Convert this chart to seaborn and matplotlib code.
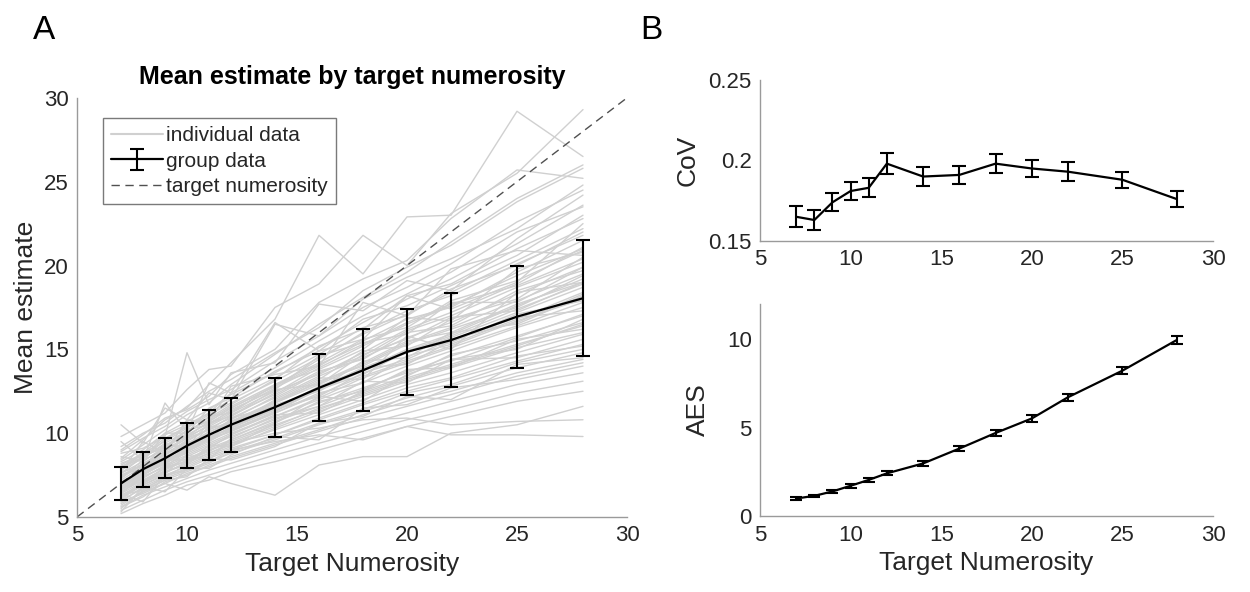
import numpy as np
import pandas as pd
import matplotlib
matplotlib.use("Agg")
import matplotlib.pyplot as plt
import seaborn as sns
from matplotlib.lines import Line2D

# ---------------- data ----------------
targets = [7, 8, 9, 10, 11, 12, 14, 16, 18, 20, 22, 25, 28]

group_mean = [7.0, 7.85, 8.5, 9.25, 9.9, 10.5, 11.55, 12.7, 13.75, 14.85, 15.55, 16.95, 18.05]
group_sd = [1.0, 1.05, 1.2, 1.35, 1.5, 1.6, 1.75, 2.0, 2.45, 2.55, 2.8, 3.05, 3.45]

cov_mean = [0.165, 0.163, 0.174, 0.181, 0.183, 0.198, 0.190, 0.191, 0.198, 0.195, 0.193, 0.188, 0.176]
cov_err = [0.0065, 0.006, 0.0055, 0.0055, 0.0058, 0.0065, 0.006, 0.0055, 0.006, 0.0055, 0.006, 0.005, 0.005]

aes_mean = [1.0, 1.15, 1.4, 1.72, 2.05, 2.42, 2.98, 3.82, 4.7, 5.52, 6.72, 8.22, 9.95]
aes_err = [0.06, 0.07, 0.08, 0.1, 0.1, 0.11, 0.12, 0.14, 0.16, 0.18, 0.2, 0.2, 0.25]

target_line = [5, 30]

individual = [
    [8.5, 9.6, 10.8, 11.5, 12.9, 14.2, 16.8, 21.8, 19.5, 22.9, 23.0, 29.2, 26.5],
    [9.8, 10.5, 11.2, 12.6, 13.8, 14.0, 17.5, 18.9, 21.8, 20.0, 23.1, 25.5, 29.3],
    [9.0, 9.9, 10.9, 11.4, 12.2, 13.5, 15.0, 17.8, 19.2, 20.3, 22.8, 25.7, 25.2],
    [8.4, 9.3, 10.2, 11.1, 11.8, 12.9, 14.7, 16.5, 18.1, 19.6, 21.4, 24.0, 26.0],
    [10.5, 9.4, 11.5, 10.8, 12.4, 12.0, 16.5, 15.8, 18.0, 19.3, 20.4, 22.2, 24.8],
    [7.9, 8.8, 9.9, 10.5, 11.2, 12.4, 13.9, 15.5, 17.0, 18.3, 19.6, 22.0, 23.5],
    [8.0, 8.5, 9.6, 10.4, 10.9, 11.7, 13.2, 15.2, 16.2, 18.2, 18.9, 21.0, 22.8],
    [7.6, 8.6, 9.3, 9.8, 10.7, 11.5, 12.8, 14.4, 16.0, 17.3, 18.2, 20.1, 21.8],
    [7.3, 8.2, 8.9, 9.7, 10.2, 11.0, 12.4, 13.9, 15.2, 16.5, 17.6, 19.4, 21.0],
    [7.5, 7.9, 8.7, 9.4, 10.0, 10.8, 12.2, 13.6, 14.6, 16.1, 17.0, 18.7, 20.2],
    [7.1, 7.8, 8.6, 9.2, 9.9, 10.6, 11.8, 12.9, 14.1, 15.4, 16.3, 17.9, 19.5],
    [6.9, 7.7, 8.4, 9.0, 9.7, 10.3, 11.5, 12.6, 13.7, 14.8, 15.7, 17.2, 18.7],
    [7.0, 7.5, 8.2, 8.9, 9.6, 10.1, 11.2, 12.3, 13.4, 14.3, 15.2, 16.7, 18.0],
    [6.8, 7.6, 8.3, 8.8, 9.4, 10.0, 11.0, 12.0, 13.0, 14.0, 14.9, 16.3, 17.5],
    [6.6, 7.4, 8.0, 8.6, 9.2, 9.8, 10.8, 11.8, 12.7, 13.6, 14.6, 15.8, 17.0],
    [6.5, 7.2, 7.9, 8.5, 9.0, 9.5, 10.5, 11.4, 12.4, 13.3, 14.1, 15.3, 16.4],
    [6.3, 7.0, 7.7, 8.2, 8.8, 9.3, 10.2, 11.1, 12.0, 12.9, 13.6, 14.8, 15.9],
    [6.2, 6.9, 7.5, 8.0, 8.6, 9.1, 9.9, 10.8, 11.7, 12.5, 13.2, 14.3, 15.3],
    [6.0, 6.7, 7.3, 7.8, 8.3, 8.8, 9.6, 10.5, 11.3, 12.1, 12.8, 13.9, 14.8],
    [5.8, 6.5, 7.0, 7.6, 8.0, 8.5, 9.3, 10.1, 10.9, 11.6, 12.3, 13.4, 14.2],
    [5.6, 6.3, 6.8, 7.3, 7.8, 8.2, 9.0, 9.8, 10.5, 11.2, 11.9, 12.9, 13.6],
    [5.4, 6.0, 6.6, 7.1, 7.5, 7.9, 8.7, 9.4, 10.1, 10.8, 11.4, 12.4, 13.1],
    [5.2, 5.8, 6.3, 6.9, 7.2, 7.7, 8.3, 9.0, 9.7, 10.4, 11.0, 11.9, 12.5],
    [5.9, 6.4, 7.0, 6.6, 7.4, 7.0, 6.3, 8.1, 8.6, 8.6, 10.0, 10.5, 11.6],
    [6.4, 5.9, 7.5, 7.8, 8.3, 9.0, 9.5, 9.9, 9.6, 10.4, 9.9, 9.9, 9.8],
    [7.2, 7.0, 8.0, 8.3, 9.0, 9.4, 10.0, 10.3, 10.8, 10.9, 10.5, 10.7, 10.8],
    [9.5, 8.4, 11.8, 10.1, 13.0, 12.4, 16.6, 14.9, 15.6, 18.2, 17.4, 19.0, 22.5],
    [8.8, 9.1, 9.8, 14.8, 11.7, 13.6, 14.2, 17.7, 17.3, 19.1, 18.5, 21.6, 24.2],
    [7.7, 9.5, 8.8, 10.8, 10.6, 12.8, 13.5, 14.0, 17.8, 17.0, 19.8, 20.9, 20.6],
    [6.7, 7.3, 9.4, 9.0, 10.4, 10.4, 12.0, 13.3, 13.2, 15.8, 15.0, 18.4, 19.0],
    [6.1, 7.1, 7.6, 8.7, 8.4, 9.7, 10.9, 11.6, 13.1, 13.0, 14.4, 15.0, 16.8],
    [5.5, 6.6, 7.2, 7.4, 8.5, 8.4, 9.2, 10.6, 11.0, 12.2, 12.0, 14.1, 14.5],
    [7.4, 8.1, 8.5, 9.5, 9.5, 10.9, 11.6, 12.6, 14.3, 14.5, 16.0, 16.5, 18.2],
    [8.2, 8.7, 9.1, 10.0, 11.0, 11.2, 12.9, 13.8, 15.0, 16.9, 16.7, 19.8, 20.8],
    [6.9, 7.8, 8.1, 9.3, 9.8, 10.2, 11.3, 12.7, 13.9, 14.1, 15.5, 16.9, 17.3],
    [6.4, 7.5, 8.4, 8.4, 9.1, 9.9, 11.1, 11.2, 12.5, 13.8, 13.9, 15.6, 16.2],
    [5.3, 6.8, 6.5, 7.9, 7.9, 8.7, 9.8, 9.6, 11.5, 11.7, 12.7, 13.2, 14.0],
    [7.8, 8.9, 9.0, 10.2, 10.5, 11.4, 12.6, 14.6, 15.4, 15.9, 17.8, 17.8, 19.9],
    [8.6, 8.3, 10.0, 10.0, 11.5, 12.1, 13.7, 14.9, 16.8, 17.6, 18.8, 20.6, 23.0],
    [6.0, 7.2, 7.7, 8.1, 9.3, 9.2, 10.6, 12.2, 11.9, 13.5, 14.4, 14.5, 15.6],
    [7.2, 8.0, 8.8, 9.5, 10.3, 10.9, 12.1, 13.4, 14.5, 15.7, 16.6, 18.3, 19.9],
    [6.8, 7.5, 8.3, 9.1, 9.6, 10.4, 11.4, 12.8, 13.8, 15.0, 15.9, 17.6, 19.2],
    [7.6, 8.3, 9.2, 9.9, 10.6, 11.3, 12.7, 14.0, 15.5, 16.8, 17.5, 19.6, 21.5],
    [6.5, 7.3, 8.1, 8.7, 9.3, 9.9, 11.0, 12.1, 13.3, 14.2, 15.1, 16.4, 17.8],
    [7.0, 7.9, 8.5, 9.3, 10.1, 10.6, 11.9, 13.0, 14.2, 15.5, 16.0, 17.7, 19.0],
    [6.2, 7.0, 7.8, 8.4, 8.9, 9.6, 10.7, 11.6, 12.6, 13.7, 14.3, 15.7, 17.1],
    [8.1, 8.8, 9.5, 10.3, 11.1, 11.8, 13.1, 14.5, 15.9, 17.1, 18.4, 20.3, 22.2],
    [7.4, 8.2, 8.7, 9.6, 10.2, 10.7, 11.9, 13.2, 14.9, 15.2, 16.8, 18.0, 20.5],
    [6.6, 7.4, 8.0, 8.9, 9.5, 10.2, 11.2, 12.4, 13.0, 14.6, 15.3, 16.8, 18.4],
    [7.1, 7.7, 8.6, 9.1, 9.9, 10.5, 11.7, 12.5, 13.9, 14.9, 15.8, 17.4, 18.9],
    [5.9, 6.8, 7.4, 8.1, 8.7, 9.2, 10.3, 11.3, 12.2, 13.1, 13.9, 15.1, 16.0],
    [7.8, 8.5, 9.4, 10.1, 10.8, 11.6, 12.9, 14.2, 15.6, 16.3, 17.9, 19.1, 20.9],
    [8.3, 9.0, 10.0, 10.7, 11.4, 12.3, 13.6, 15.1, 16.6, 18.0, 19.2, 21.3, 23.6],
    [6.4, 7.1, 7.9, 8.3, 9.1, 9.6, 10.6, 11.9, 12.5, 13.4, 14.7, 15.5, 16.6],
    [7.3, 8.4, 9.0, 9.8, 10.4, 11.1, 12.3, 13.7, 14.4, 16.0, 16.4, 18.5, 19.7],
    [6.9, 7.6, 8.2, 9.0, 9.8, 10.3, 11.4, 12.2, 13.6, 14.4, 15.6, 16.6, 18.3],
    [8.9, 9.7, 10.4, 11.3, 12.0, 12.6, 14.3, 15.8, 17.5, 18.7, 20.1, 22.6, 24.5],
    [5.7, 6.5, 7.2, 7.7, 8.2, 8.9, 9.7, 10.6, 11.4, 12.4, 12.9, 14.2, 15.0],
    [7.5, 8.1, 8.9, 9.7, 10.5, 11.2, 12.5, 13.5, 14.8, 16.2, 17.2, 18.9, 21.1],
    [6.7, 7.5, 8.4, 8.9, 9.7, 10.1, 11.3, 12.6, 13.5, 14.9, 15.4, 17.1, 17.9],
    [7.9, 8.6, 9.2, 10.2, 10.7, 11.5, 12.8, 14.1, 15.3, 16.6, 17.7, 18.8, 20.4],
    [9.2, 10.0, 10.6, 11.6, 12.5, 13.2, 14.8, 16.3, 18.5, 19.9, 21.2, 23.8, 25.8],
    [6.1, 6.9, 7.6, 8.3, 8.8, 9.4, 10.4, 11.5, 12.3, 13.2, 14.0, 15.2, 16.5],
    [7.0, 7.8, 8.5, 9.4, 9.9, 10.7, 11.8, 13.1, 14.0, 15.3, 16.2, 17.5, 19.4],
    [8.0, 8.7, 9.7, 10.4, 11.2, 12.0, 13.3, 14.7, 16.3, 17.0, 18.6, 20.0, 22.0],
    [6.3, 6.6, 7.4, 7.9, 8.5, 9.0, 9.9, 10.9, 11.8, 12.7, 13.3, 14.6, 15.2],
    [5.6, 6.2, 7.1, 7.5, 8.1, 8.6, 9.4, 10.2, 11.1, 11.9, 12.5, 13.6, 14.4],
    [7.7, 8.0, 9.3, 9.2, 10.6, 11.0, 12.6, 12.9, 14.7, 15.6, 16.9, 17.3, 19.0],
]

# ---------------- style ----------------
sns.set_theme(style="white")
plt.rcParams["font.family"] = ["Liberation Sans", "DejaVu Sans"]

AX_COL = "#9a9a9a"
TXT_COL = "#262626"
GREY = "#d0d0d0"

fig = plt.figure(figsize=(12.5, 5.92), dpi=100)
axA = fig.add_axes([0.0616, 0.1267, 0.44, 0.708])
axB1 = fig.add_axes([0.608, 0.593, 0.3624, 0.272])
axB2 = fig.add_axes([0.608, 0.128, 0.3624, 0.359])


def style_ax(ax):
    for s in ["top", "right"]:
        ax.spines[s].set_visible(False)
    for s in ["left", "bottom"]:
        ax.spines[s].set_color(AX_COL)
        ax.spines[s].set_linewidth(1.0)
    ax.tick_params(direction="in", length=5, width=1.0, color=AX_COL,
                   labelcolor=TXT_COL, labelsize=16, pad=6)
    ax.set_xlim(5, 30)
    ax.set_xticks([5, 10, 15, 20, 25, 30])


# ---------------- panel A ----------------
rows = []
for pid, vals in enumerate(individual):
    for t, v in zip(targets, vals):
        rows.append({"pid": pid, "target": t, "estimate": v})
df_ind = pd.DataFrame(rows)

sns.lineplot(data=df_ind, x="target", y="estimate", units="pid", estimator=None,
             color=GREY, linewidth=1.0, ax=axA, legend=False)
axA.plot(target_line, target_line, linestyle=(0, (6, 4)), color="#505050", linewidth=1.0)
eb = axA.errorbar(targets, group_mean, yerr=group_sd, color="black", linewidth=1.6,
                  elinewidth=1.5, capsize=5, capthick=1.5, zorder=5)

style_ax(axA)
axA.set_ylim(5, 30)
axA.set_yticks([5, 10, 15, 20, 25, 30])
axA.set_xlabel("Target Numerosity", fontsize=19, color=TXT_COL, labelpad=4)
axA.set_ylabel("Mean estimate", fontsize=19, color=TXT_COL, labelpad=4)
axA.set_title("Mean estimate by target numerosity", fontsize=18, fontweight="bold",
              color="black", pad=10)

h_ind = Line2D([], [], color=GREY, linewidth=1.5)
h_tgt = Line2D([], [], color="#505050", linestyle=(0, (6, 4)), linewidth=1.0)
leg = axA.legend([h_ind, eb, h_tgt], ["individual data", "group data", "target numerosity"],
                 loc="upper left", bbox_to_anchor=(0.047, 0.952), borderaxespad=0,
                 fontsize=15, frameon=True, fancybox=False, framealpha=1,
                 handlelength=2.5, handletextpad=0.15, borderpad=0.4, labelspacing=0.3)
leg.get_frame().set_edgecolor("#7a7a7a")
leg.get_frame().set_linewidth(1.0)
for t in leg.get_texts():
    t.set_color(TXT_COL)

# ---------------- panel B (top): CoV ----------------
axB1.errorbar(targets, cov_mean, yerr=cov_err, color="black", linewidth=1.6,
              elinewidth=1.5, capsize=5, capthick=1.5)
style_ax(axB1)
axB1.set_ylim(0.15, 0.25)
axB1.set_yticks([0.15, 0.2, 0.25])
axB1.set_yticklabels(["0.15", "0.2", "0.25"])
axB1.set_ylabel("CoV", fontsize=19, color=TXT_COL, labelpad=6)

# ---------------- panel B (bottom): AES ----------------
axB2.errorbar(targets, aes_mean, yerr=aes_err, color="black", linewidth=1.6,
              elinewidth=1.5, capsize=4, capthick=1.5)
style_ax(axB2)
axB2.set_ylim(0, 12)
axB2.set_yticks([0, 5, 10])
axB2.set_xlabel("Target Numerosity", fontsize=19, color=TXT_COL, labelpad=4)
axB2.set_ylabel("AES", fontsize=19, color=TXT_COL, labelpad=12)

# panel letters
fig.text(0.026, 0.948, "A", fontsize=24, color="black", va="center", ha="left")
fig.text(0.512, 0.948, "B", fontsize=24, color="black", va="center", ha="left")

fig.savefig("out.png", dpi=100)
